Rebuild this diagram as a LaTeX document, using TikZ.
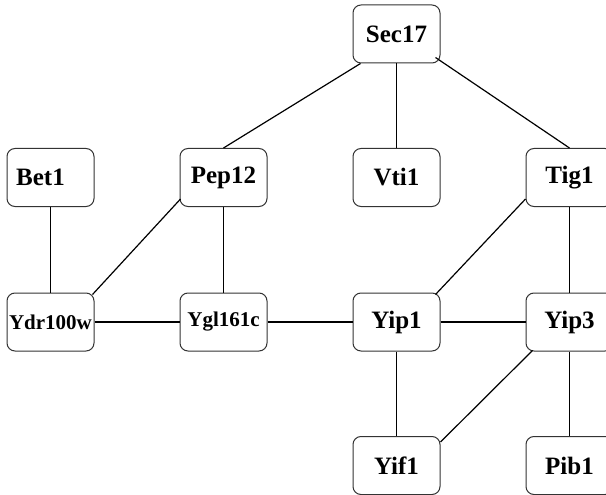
\documentclass[tikz,border=0pt]{standalone}
\usepackage{fontspec}
\setmainfont{Liberation Serif}
\begin{document}
\begin{tikzpicture}[x=1pt,y=-1pt,
  gbox/.style={draw=black!80, line width=1pt, rounded corners=8pt, minimum width=87pt, minimum height=58pt, inner sep=0pt, font=\fontsize{25}{25}\selectfont\bfseries, fill=white},
  gsmall/.style={gbox, font=\fontsize{21}{21}\selectfont\bfseries},
  link/.style={line width=1.2pt, black}]
\clip (0,0) rectangle (606,495);
\fill[white] (0,0) rectangle (606,495);
% nodes
\node[gbox] (sec) at (396.5,34) {Sec17};
\node[gbox] (bet) at (50.5,177.5) {\hspace*{-20pt}Bet1};
\node[gbox] (pep) at (223.5,177.5) {Pep12};
\node[gbox] (vti) at (396.5,177.5) {Vti1};
\node[gbox] (tig) at (569.5,177.5) {Tig1};
\node[gsmall] (ydr) at (50.5,322) {Ydr100w};
\node[gsmall] (ygl) at (223.5,322) {Ygl161c};
\node[gbox] (yipa) at (396.5,322) {Yip1};
\node[gbox] (yipc) at (569.5,322) {Yip3};
\node[gbox] (yif) at (396.5,465.5) {Yif1};
\node[gbox] (pib) at (569.5,465.5) {Pib1};
% edges
\draw[link] ([xshift=8pt]sec.south west) -- (pep.north);
\draw[link] (sec.south) -- (vti.north);
\draw[link] ([shift={(-5,-6)}]sec.south east) -- (tig.north);
\draw[link] (bet.south) -- (ydr.north);
\draw[link] (pep.south) -- (ygl.north);
\draw[link] ([shift={(1,-8)}]pep.south west) -- ([shift={(-2,2)}]ydr.north east);
\draw[link] ([shift={(0,-8)}]tig.south west) -- ([shift={(-5,2)}]yipa.north east);
\draw[link] (tig.south) -- (yipc.north);
\draw[link] (ydr.east) -- (ygl.west);
\draw[link] (ygl.east) -- (yipa.west);
\draw[link] (yipa.east) -- (yipc.west);
\draw[link] (yipa.south) -- (yif.north);
\draw[link] ([shift={(7,-1)}]yipc.south west) -- ([shift={(0,6)}]yif.north east);
\draw[link] (yipc.south) -- (pib.north);
\end{tikzpicture}
\end{document}
